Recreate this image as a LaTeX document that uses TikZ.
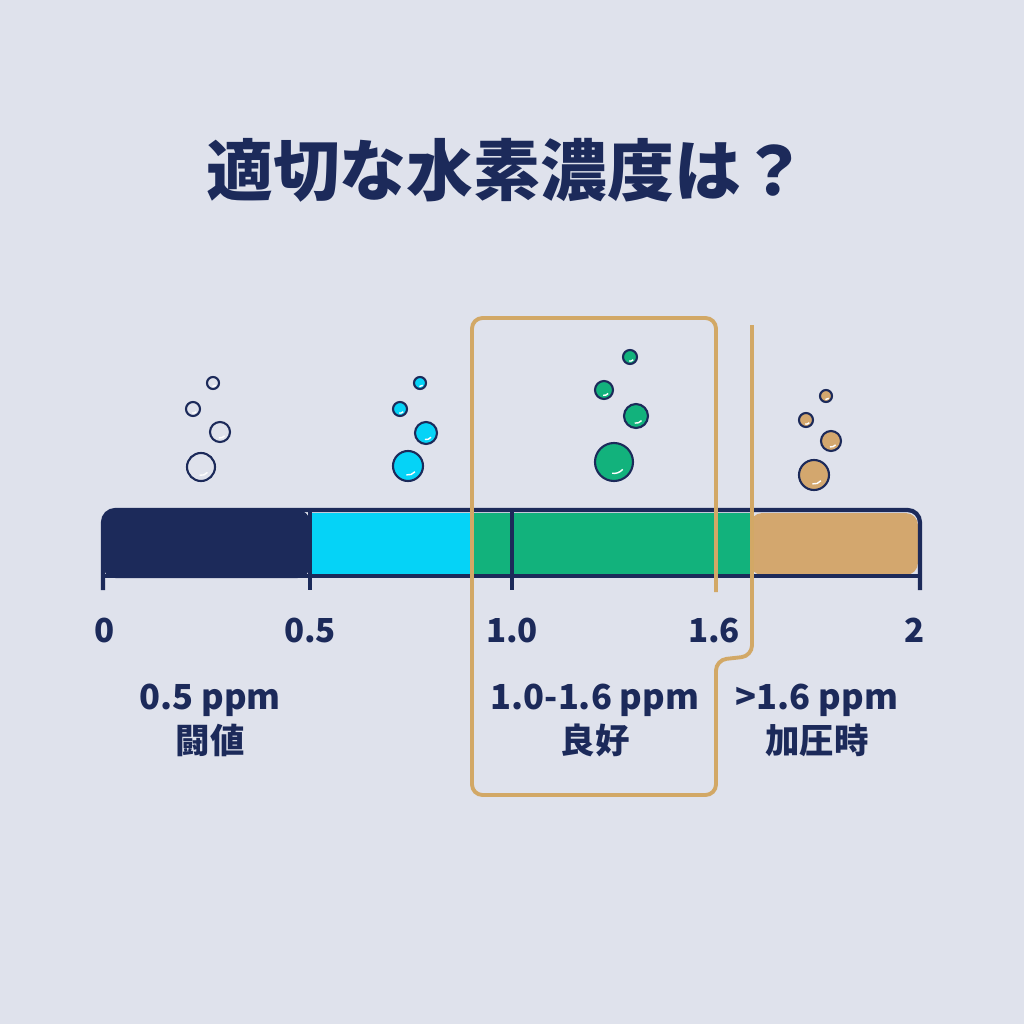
\documentclass[tikz,border=0pt]{standalone}
\usepackage{fontspec}
\setmainfont{Noto Sans CJK JP}
\definecolor{bgc}{HTML}{DFE2EC}
\definecolor{navy}{HTML}{1C2A5A}
\definecolor{cyanb}{HTML}{05D3F7}
\definecolor{greenb}{HTML}{12B27C}
\definecolor{tanb}{HTML}{D3A76E}
\definecolor{boxc}{HTML}{D2A866}
\begin{document}
\begin{tikzpicture}[x=0.01cm,y=-0.01cm]
		\tikzset{label/.style = {text=navy, font=\bfseries\fontsize{9.8}{12.5}\selectfont, align=center}}
		\tikzset{tick/.style = {text=navy, font=\bfseries\fontsize{9.4}{11}\selectfont}}
		\tikzset{bubble/.style = {draw=navy, line width=0.6pt}}
		
		\useasboundingbox (0,0) rectangle (1024,1024);
		\fill[bgc] (0,0) rectangle (1024,1024);
		\node[text=navy, font=\bfseries\fontsize{19}{22}\selectfont] (title) at (507,170) {適切な水素濃度は？};
		
		% bar
		\fill[navy, rounded corners=3.5pt] (103,578) -- (103,510) -- (310,510) -- (310,578) -- cycle;
		\fill[cyanb] (310,513) rectangle (470,575);
		\fill[greenb] (470,513) rectangle (750,575);
		\fill[tanb, rounded corners=3.5pt] (750,513) -- (918,513) -- (918,575) -- (750,575) -- cycle;
		\draw[navy, line width=1.2pt, rounded corners=3.5pt] (103,590) -- (103,510) -- (920,510) -- (920,590);
		\draw[navy, line width=1.2pt] (103,576) -- (920,576);
		\draw[navy, line width=1.2pt] (310,510) -- (310,590);
		\draw[navy, line width=1.2pt] (512,510) -- (512,590);
		
		\node[tick] (t0)  at (105,630) {0};
		\node[tick] (t05) at (310,630) {0.5};
		\node[tick] (t10) at (512,630) {1.0};
		\node[tick] (t16) at (714,630) {1.6};
		\node[tick] (t2)  at (915,630) {2};
		
		\node[label] (low)  at (210,720) {0.5 ppm\\闘値};
		\node[label] (good) at (595,720) {1.0-1.6 ppm\\良好};
		\node[label] (high) at (817,720) {>1.6 ppm\\加圧時};
		
		% bracket
		\draw[boxc, line width=1.1pt, rounded corners=3pt] (752,325) -- (752,656) -- (716,660) -- (716,795) -- (472,795) -- (472,318) -- (716,318) -- (716,592);
		
		% bubbles
		\foreach \x/\y/\r/\c in {213/383/6/bgc, 193/409/7/bgc, 220/432/10/bgc, 201/467/14/bgc,
			420/383/6/cyanb, 400/409/7/cyanb, 426/433/11/cyanb, 408/466/15/cyanb,
			630/357/7/greenb, 604/390/9/greenb, 636/416/12/greenb, 614/462/19/greenb,
			826/396/6/tanb, 806/420/7/tanb, 831/441/10/tanb, 814/475/15/tanb}
			{\draw[bubble, fill=\c] (\x,\y) circle (\r);
			 \draw[white, line width=0.4pt] (\x,\y) ++(100:0.6*\r) arc (100:40:0.6*\r);}
		\end{tikzpicture}
\end{document}
